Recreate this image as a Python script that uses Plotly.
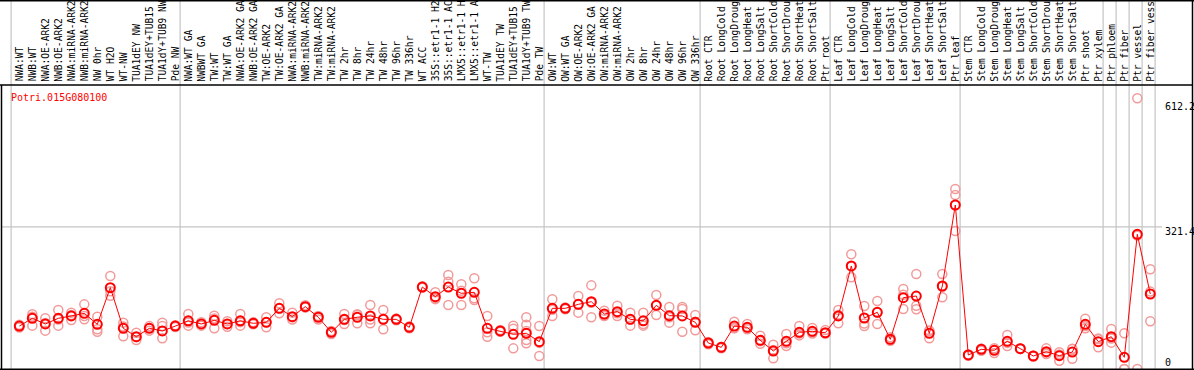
import plotly.graph_objects as go

# ---------------- data ----------------
title_text = "Potri.015G080100"

labels = [
    "NWA:WT", "NWB:WT", "NWA:OE-ARK2", "NWB:OE-ARK2", "NWA:miRNA-ARK2", "NWB:miRNA-ARK2",
    "NW 0hr", "WT H2O", "WT-NW", "TUA1dEY NW", "TUA1dEY+TUB15 NW", "TUA1dY+TUB9 NW", "Pde NW",
    "NWA:WT GA", "NWBWT GA", "TW:WT", "TW:WT GA", "NWA:OE-ARK2 GA", "NWB:OE-ARK2 GA",
    "TW:OE-ARK2", "TW:OE-ARK2 GA", "NWA:miRNA-ARK2 GA", "NWB:miRNA-ARK2 GA", "TW:miRNA-ARK2",
    "TW:miRNA-ARK2", "TW 2hr", "TW 8hr", "TW 24hr", "TW 48hr", "TW 96hr", "TW 336hr", "WT ACC",
    "35S::etr1-1 H2O", "35S::etr1-1 ACC", "LMX5::etr1-1 H2O", "LMX5::etr1-1 ACC", "WT-TW",
    "TUA1dEY TW", "TUA1dEY+TUB15 TW", "TUA1dY+TUB9 TW", "Pde TW",
    "OW:WT", "OW:WT GA", "OW:OE-ARK2", "OW:OE-ARK2 GA", "OW:miRNA-ARK2", "OW:miRNA-ARK2",
    "OW 2hr", "OW 8hr", "OW 24hr", "OW 48hr", "OW 96hr", "OW 336hr",
    "Root CTR", "Root LongCold", "Root LongDrought", "Root LongHeat", "Root LongSalt",
    "Root ShortCold", "Root ShortDrought", "Root ShortHeat", "Root ShortSalt", "Ptr root",
    "Leaf CTR", "Leaf LongCold", "Leaf LongDrought", "Leaf LongHeat", "Leaf LongSalt",
    "Leaf ShortCold", "Leaf ShortDrought", "Leaf ShortHeat", "Leaf ShortSalt", "Ptr leaf",
    "Stem CTR", "Stem LongCold", "Stem LongDrought", "Stem LongHeat", "Stem LongSalt",
    "Stem ShortCold", "Stem ShortDrought", "Stem ShortHeat", "Stem ShortSalt", "Ptr shoot",
    "Ptr xylem", "Ptr phloem", "Ptr fiber", "Ptr vessel", "Ptr fiber vessel",
]

group_sizes = [13, 28, 12, 10, 10, 11, 1, 1, 1, 1]

means = [
    97, 114.6, 101.8, 114.6, 119.9, 125.9, 101, 184, 92, 73, 92, 86, 97,
    109, 101.8, 110, 101.8, 109, 103.3, 105.6, 137.2, 118.4, 141, 117, 83, 112.3, 117, 120,
    112.3, 112.3, 94.3, 185.4, 163.6, 185.4, 171.1, 173.4, 92, 86, 78.5, 80.7, 61.8,
    137.2, 137.2, 146.2, 152.2, 124.4, 129.7, 112.3, 109, 144, 120.6, 120, 105.6,
    58.8, 49, 97.2, 94.3, 64.8, 40.7, 62.6, 83, 85.2, 82,
    119.9, 233, 115.3, 128.2, 67.1, 161.3, 165, 80.7, 187.7, 370.9,
    31.7, 44.5, 42.2, 62.6, 46, 29.4, 39.2, 30.2, 38.4, 101, 61.8,
    73, 26.4, 304.6, 169.6,
]

replicates = [
    [94, 100, 97], [124, 98, 118], [114.6, 86.7, 104], [133.4, 98, 112], [127.4, 110.8, 122],
    [146.2, 112.3, 120], [118.4, 89.7, 84.4], [210.3, 165.8, 176], [104.8, 74, 96],
    [82, 65.6, 72], [97, 86.7, 93], [104.8, 97, 69.4], [99, 95, 97],
    [124.4, 98, 105], [106, 98, 102], [120.6, 92, 114], [108, 95.7, 102], [124.4, 98, 106],
    [106, 101, 103], [117, 94.3, 106], [148.6, 126, 137], [127.4, 112, 117], [144, 139, 140],
    [112, 120, 118], [79, 86, 84], [124.4, 101.8, 111], [103.3, 124, 122], [144.7, 103.3, 112],
    [133.4, 89.7, 113], [110, 114, 113], [92, 96, 95], [184, 187, 185], [173.4, 158, 160],
    [212.6, 197.4, 144.7], [191.5, 144.7, 177], [205.1, 156, 160], [119.9, 73, 83],
    [84, 88, 86], [98, 46.7, 91], [117, 100, 86, 65.6, 58], [97.2, 29.4, 59],
    [157.6, 119.9, 134], [135, 139, 137], [165, 127.4, 146], [189.2, 117, 150],
    [132, 120, 121], [143.2, 120, 126], [127.4, 98, 112], [127.4, 101.8, 98],
    [167.3, 122, 143], [140.2, 104.8, 117], [140.2, 135.7, 84.4], [122, 87.5, 107],
    [56, 61, 59], [46.7, 50, 50], [107, 92, 93], [101.8, 90, 92], [75.3, 57, 63],
    [24.1, 43, 55], [79, 58, 52], [97.2, 76, 80], [93, 80, 83], [88, 80, 81],
    [133.4, 103.3, 122], [259.4, 207.4, 232], [142.5, 97.2, 103], [153.8, 101.8, 128],
    [72, 64, 65], [180.9, 135.7, 168], [214.8, 143.2, 135], [87, 69.4, 86],
    [214.8, 162.1, 186], [407, 393.5, 312],
    [32, 33, 30], [41, 46, 46], [47, 36, 43], [76.9, 52, 59], [46, 47, 45], [30, 28, 30],
    [46.7, 34, 37], [33, 18.8, 38], [46, 23.3, 45], [113.9, 92, 97], [67, 49, 69],
    [90.5, 59.6, 69], [80.7, 0, 0], [612.2, 301.6, 0], [225.5, 175, 107.8],
]

y_ticks = [0, 321.4, 612.2]

# ---------------- layout geometry ----------------
W, H = 1194, 370
X0_PX, DX_PX = 19.3, 13.0          # pixel position of first point, spacing
Y0_PX, DY_PX = 369.0, 0.4422       # pixel of value 0, pixels per unit
HEADER_PX = 85.0

x_range = [-X0_PX / DX_PX, (W - X0_PX) / DX_PX]
y_range = [-(H - Y0_PX) / DY_PX, Y0_PX / DY_PX]


def xd(px):
    return (px - X0_PX) / DX_PX


def pp(py):  # pixel y -> paper y
    return 1 - py / H


n = len(labels)
xs = list(range(n))

rep_x, rep_y = [], []
for i, reps in enumerate(replicates):
    for v in reps:
        rep_x.append(i)
        rep_y.append(v)

fig = go.Figure()
fig.add_trace(go.Scatter(
    x=rep_x, y=rep_y, mode="markers",
    marker=dict(symbol="circle-open", size=9, color="#f29a9a", line=dict(width=1.5)),
    hoverinfo="skip", showlegend=False,
))
fig.add_trace(go.Scatter(
    x=xs, y=means, mode="lines+markers",
    line=dict(color="#ff0000", width=1),
    marker=dict(symbol="circle-open", size=9, color="#ff0000", line=dict(width=2)),
    showlegend=False,
))

shapes = []
# group separators
b = 0
bounds = [0]
for g in group_sizes:
    b += g
    bounds.append(b)
for bi in bounds:
    shapes.append(dict(type="line", xref="x", yref="paper", x0=bi - 0.63, x1=bi - 0.63,
                       y0=0, y1=1, line=dict(color="#c4c4c4", width=1.2), layer="below"))
# horizontal grid line at middle tick
shapes.append(dict(type="line", xref="x", yref="y", x0=xd(2), x1=xd(1162),
                   y0=y_ticks[1], y1=y_ticks[1], line=dict(color="#c4c4c4", width=1.2), layer="below"))
# black frame lines
blk = dict(color="#000000", width=1.5)
shapes.append(dict(type="line", xref="x", yref="paper", x0=xd(0), x1=xd(W), y0=pp(0.7), y1=pp(0.7), line=blk))
shapes.append(dict(type="line", xref="x", yref="paper", x0=xd(0), x1=xd(1193), y0=pp(HEADER_PX), y1=pp(HEADER_PX), line=blk))
shapes.append(dict(type="line", xref="x", yref="paper", x0=xd(0), x1=xd(W), y0=pp(369.3), y1=pp(369.3), line=blk))
shapes.append(dict(type="line", xref="x", yref="paper", x0=xd(1.5), x1=xd(1.5), y0=pp(HEADER_PX), y1=pp(370), line=blk))
shapes.append(dict(type="line", xref="x", yref="paper", x0=xd(1192.5), x1=xd(1192.5), y0=pp(0), y1=pp(370), line=blk))

annotations = []
mono = "DejaVu Sans Mono"
for i, lab in enumerate(labels):
    annotations.append(dict(
        x=i, xref="x", y=pp(83.5), yref="paper", text=lab, textangle=-90,
        xanchor="center", yanchor="bottom", showarrow=False,
        font=dict(family=mono, size=9.6, color="#000000"),
    ))
annotations.append(dict(
    x=xd(8.5), xref="x", y=pp(97.5), yref="paper", text=title_text,
    xanchor="left", yanchor="middle", showarrow=False,
    font=dict(family=mono, size=10, color="#ff0000"),
))
tick_label_offsets = {0: -7.0, 1: 4.3, 2: 8.5}
for k, t in enumerate(y_ticks):
    ypx = Y0_PX - t * DY_PX + tick_label_offsets[k]
    annotations.append(dict(
        x=xd(1162.5), xref="x", y=pp(ypx), yref="paper", text=f"{t:g}",
        xanchor="left", yanchor="middle", showarrow=False,
        font=dict(family=mono, size=10, color="#000000"),
    ))

fig.update_layout(
    width=W, height=H,
    margin=dict(l=0, r=0, t=0, b=0),
    paper_bgcolor="white", plot_bgcolor="white",
    xaxis=dict(range=x_range, visible=False, fixedrange=True),
    yaxis=dict(range=y_range, visible=False, fixedrange=True),
    shapes=shapes, annotations=annotations,
    showlegend=False,
)
fig.write_html(
    "out.html",
    config={"displayModeBar": False},
    post_script="document.body.style.margin='0';document.body.style.padding='0';"
                "document.body.style.overflow='hidden';",
)
